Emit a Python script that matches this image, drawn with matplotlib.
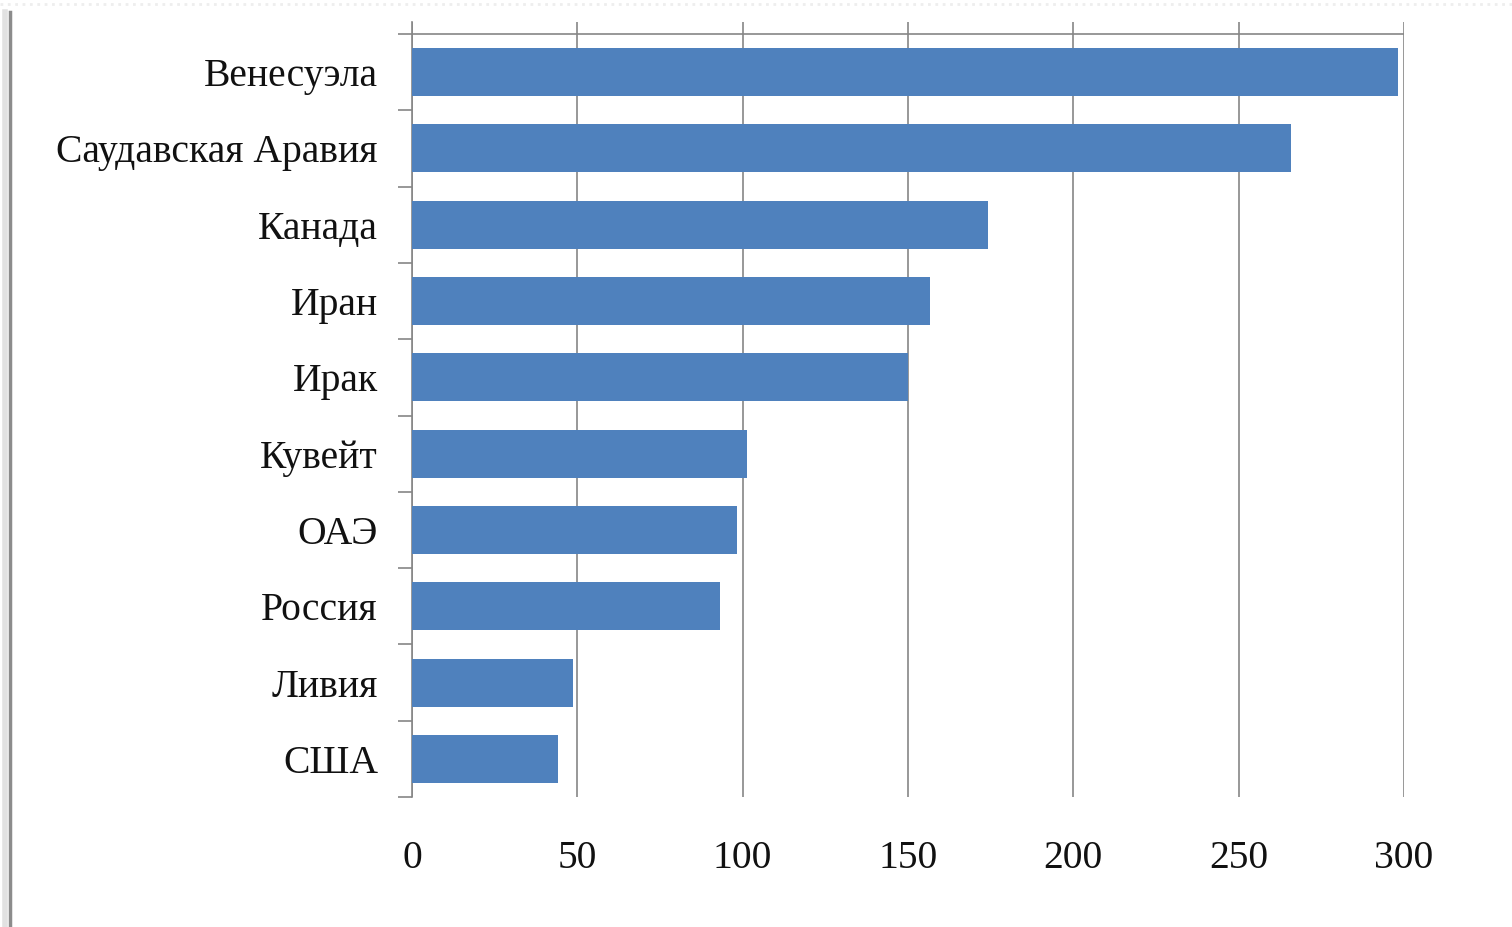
import matplotlib
matplotlib.use("Agg")
import matplotlib.pyplot as plt
from matplotlib.lines import Line2D
import numpy as np

countries = ["Венесуэла", "Саудавская Аравия", "Канада", "Иран", "Ирак",
             "Кувейт", "ОАЭ", "Россия", "Ливия", "США"]
reserves = [298.2, 265.8, 174.2, 156.6, 150.0, 101.3, 98.3, 93.1, 48.7, 44.1]
x_ticks = [0, 50, 100, 150, 200, 250, 300]

plt.rcParams['font.family'] = ['Liberation Serif', 'DejaVu Serif']

W, H = 1512, 927
fig = plt.figure(figsize=(W / 100, H / 100), dpi=100)
fig.patch.set_facecolor('white')

# axes box: x 412..1404 px, y 22..797 px (from top)
ax = fig.add_axes([412 / W, (H - 797) / H, (1404 - 412) / W, (797 - 22) / H])

n = len(countries)
ypos = np.arange(n)[::-1]
ax.barh(ypos, reserves, height=0.63, color='#4F81BD', zorder=3)

# category band is 34..797 px, gridlines go up to 22 px
extra = 12 / ((797 - 34) / n)
ax.set_ylim(-0.5, n - 0.5 + extra)
ax.set_xlim(0, 300)

ax.set_xticks(x_ticks)
ax.set_xticklabels([str(t) for t in x_ticks])
ax.set_yticks(ypos)
ax.set_yticklabels(countries)
ax.set_yticks(np.arange(-0.5, n, 1.0), minor=True)

ax.tick_params(axis='x', length=0, pad=31, labelsize=28.5, colors='#111111')
ax.tick_params(axis='y', which='major', length=0, pad=24.5, labelsize=28.5, colors='#111111')
ax.tick_params(axis='y', which='minor', length=10, width=1.2, color='#868686')

ax.grid(axis='x', color='#868686', linewidth=1.2, zorder=1)
ax.axhline(n - 0.5, color='#868686', linewidth=1.2, zorder=2)

for s in ['top', 'right', 'bottom']:
    ax.spines[s].set_visible(False)
ax.spines['left'].set_color('#868686')
ax.spines['left'].set_linewidth(1.2)
ax.set_axisbelow(True)

# page-like frame: grey left edge and faint top border
fig.add_artist(Line2D([10 / W, 10 / W], [0, 1 - 12 / H], transform=fig.transFigure,
                      color='#8c8c8c', linewidth=2.5))
fig.add_artist(Line2D([5 / W, 5 / W], [0, 1 - 12 / H], transform=fig.transFigure,
                      color='#e2e2e2', linewidth=4))
fig.add_artist(Line2D([0, 1], [1 - 4 / H, 1 - 4 / H], transform=fig.transFigure,
                      color='#eeeeee', linewidth=2, linestyle=':'))

fig.savefig('out.png', dpi=100, facecolor='white')
